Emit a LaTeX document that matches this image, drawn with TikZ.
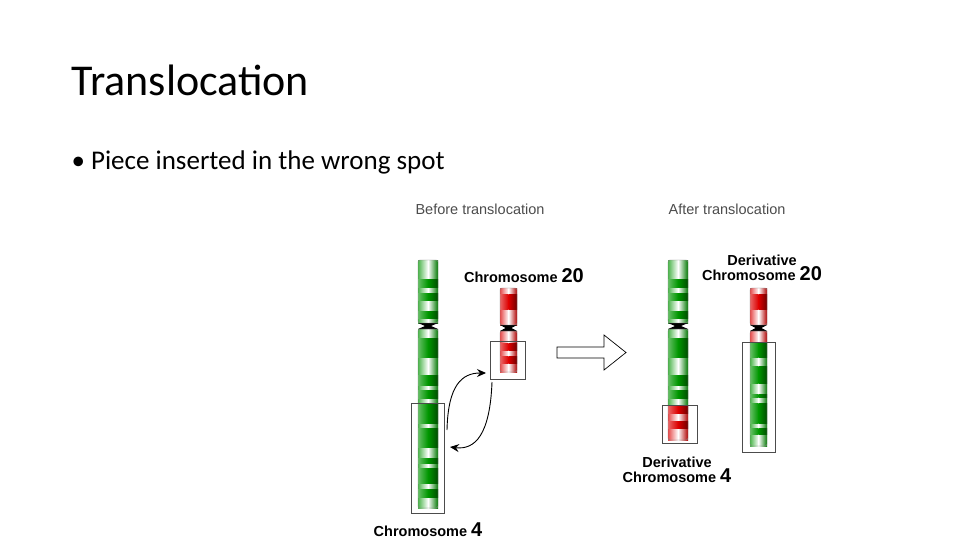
\documentclass[tikz,border=0pt]{standalone}
\usepackage{fontspec}
\usetikzlibrary{arrows.meta}
\setmainfont{Carlito}
\newfontfamily\lab{Liberation Sans}
\definecolor{gr}{RGB}{0,150,0}
\definecolor{rd}{RGB}{220,0,0}
\newcommand{\sh}[7]{\shade[left color=#5, right color=#6] (#1,#3) rectangle ({(#1+#2)/2},#4);\shade[left color=#6, right color=#7] ({(#1+#2)/2},#3) rectangle (#2,#4);}
\newcommand{\pb}[5]{\sh{#1}{#2}{#3}{#4}{#5!70!white}{white}{#5!80!black}}
\newcommand{\db}[5]{\sh{#1}{#2}{#3}{#4}{#5!60!white}{#5}{#5!50!black}}
\newcommand{\cen}[3]{\fill[black] (#1,#3-3) -- (#2,#3-3) -- ({(#1+#2)/2+3},#3) -- (#2,#3+3) -- (#1,#3+3) -- ({(#1+#2)/2-3},#3) -- cycle;}
\begin{document}
\begin{tikzpicture}[x=1pt,y=-1pt,
  hdr/.style={font=\lab\fontsize{14.5}{17}\selectfont, text=black!70},
  clab/.style={font=\lab\bfseries\fontsize{14.5}{15}\selectfont, align=center},
  box/.style={draw=black!70, line width=0.7pt},
  sw/.style={-{Stealth[length=9pt,width=8pt]}, line width=0.9pt}]
\useasboundingbox (0,0) rectangle (960,540);
\node[anchor=west, font=\fontsize{44}{48}\selectfont] (title) at (68,80) {Translocation};
\node[anchor=west, font=\fontsize{27}{30}\selectfont] (bul) at (68,162) {\textbullet\ Piece inserted in the wrong spot};
\node[hdr] (h1) at (480,209) {Before translocation};
\node[hdr] (h2) at (727,209) {After translocation};
% Chromosome 4
\pb{418}{438}{260}{323}{gr}
\db{418}{438}{279}{287}{gr}\db{418}{438}{293}{300}{gr}\db{418}{438}{311}{318}{gr}
\pb{418}{438}{329}{508}{gr}
\db{418}{438}{338}{357}{gr}\db{418}{438}{375}{385}{gr}\db{418}{438}{390}{398}{gr}
\db{418}{438}{403}{423}{gr}\db{418}{438}{428}{447}{gr}\db{418}{438}{458}{463}{gr}
\db{418}{438}{468}{483}{gr}\db{418}{438}{489}{497}{gr}
\cen{418}{438}{326}
\draw[black!50, line width=0.4pt, rounded corners=2pt] (418,260) rectangle (438,323) (418,329) rectangle (438,508);
\node[box, minimum width=33pt, minimum height=110pt, inner sep=0] (b4) at (427.5,458) {};
\node[clab] (l4) at (428,530) {Chromosome {\fontsize{20}{20}\selectfont 4}};
% Chromosome 20
\pb{500}{517}{288}{325}{rd}
\db{500}{517}{294}{309}{rd}
\pb{500}{517}{331}{372}{rd}
\db{500}{517}{343}{350}{rd}\db{500}{517}{356}{363}{rd}
\cen{500}{517}{328}
\draw[black!50, line width=0.4pt, rounded corners=2pt] (500,288) rectangle (517,325) (500,331) rectangle (517,372);
\node[box, minimum width=35pt, minimum height=38pt, inner sep=0] (b20) at (507.5,360) {};
\node[clab] (l20) at (524,276) {Chromosome {\fontsize{20}{20}\selectfont 20}};
% swap arrows
\coordinate (s1) at (447,430); \coordinate (e1) at (486,373);
\coordinate (s2) at (492,382); \coordinate (e2) at (450,447);
\draw[sw] (s1) .. controls (448,385) and (462,373) .. (e1);
\draw[sw] (s2) .. controls (490,435) and (475,450) .. (e2);
% big arrow
\draw[line width=0.7pt, fill=white] (557,347) -- (604,347) -- (604,335) -- (626,352.5) -- (604,370) -- (604,358) -- (557,358) -- cycle;
% Derivative 4
\pb{668}{688}{260}{323}{gr}
\db{668}{688}{279}{287}{gr}\db{668}{688}{293}{300}{gr}\db{668}{688}{311}{318}{gr}
\pb{668}{688}{329}{405}{gr}
\db{668}{688}{338}{357}{gr}\db{668}{688}{375}{385}{gr}\db{668}{688}{390}{398}{gr}
\pb{668}{688}{405}{440}{rd}
\db{668}{688}{405}{413}{rd}\db{668}{688}{421}{428}{rd}
\cen{668}{688}{326}
\draw[black!50, line width=0.4pt, rounded corners=2pt] (668,260) rectangle (688,323) (668,329) rectangle (688,440);
\node[box, minimum width=35pt, minimum height=38pt, inner sep=0] (bd4) at (679.5,424) {};
\node[clab] (ld4) at (677,470) {Derivative\\Chromosome {\fontsize{20}{20}\selectfont 4}};
% Derivative 20
\pb{750}{767}{288}{342}{rd}
\db{750}{767}{294}{309}{rd}
\pb{750}{767}{342}{446}{gr}
\db{750}{767}{342}{357}{gr}\db{750}{767}{366}{383}{gr}\db{750}{767}{394}{397}{gr}
\db{750}{767}{403}{423}{gr}\db{750}{767}{428}{434}{gr}
\fill[white] (749,325) rectangle (768,331);
\cen{750}{767}{328}
\draw[black!50, line width=0.4pt, rounded corners=2pt] (750,288) rectangle (767,325) (750,331) rectangle (767,446);
\node[box, minimum width=33pt, minimum height=110pt, inner sep=0] (bd20) at (758.5,397) {};
\node[clab] (ld20) at (762,268) {Derivative\\Chromosome {\fontsize{20}{20}\selectfont 20}};
\end{tikzpicture}
\end{document}
